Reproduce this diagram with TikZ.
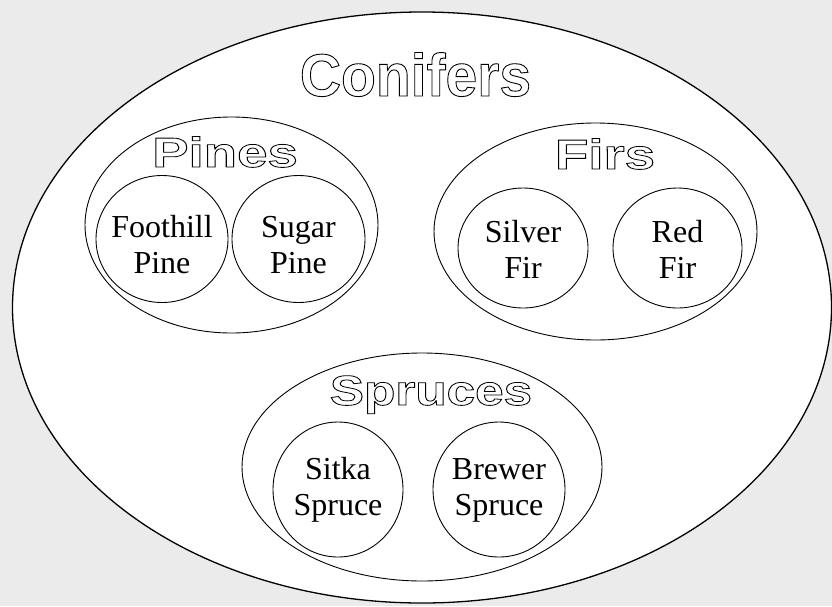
\documentclass[tikz,border=0pt]{standalone}
\usepackage{fontspec}
\setmainfont{Liberation Serif}
\newfontfamily\headfont{Liberation Sans}
\usetikzlibrary{shapes.geometric}

\definecolor{paper}{HTML}{EBEBEB}

% hollow lettering for the group titles: glyphs stroked, not filled
\newcommand{\hollow}[3]{\scalebox{#1}[1]{\special{pdf:literal direct 1 Tr #2 w}#3\special{pdf:literal direct 0 Tr}}}

\tikzset{
  ring/.style={ellipse, draw=black, fill=white, line width=0.9pt, inner sep=0pt, outer sep=0pt},
  species/.style={anchor=base, align=center, inner sep=0pt,
    font=\fontsize{32}{36}\selectfont},
  grouptitle/.style={anchor=base, inner sep=0pt, font=\headfont\bfseries\fontsize{42}{48}\selectfont},
}

\begin{document}
\begin{tikzpicture}[x=1pt, y=-1pt]
  \fill[paper] (0,0) rectangle (832,606);
  \useasboundingbox (0,0) rectangle (832,606);

  % outer set
  \node[ring, line width=1.3pt, minimum width=819pt, minimum height=591pt] (conifers) at (422,307.5) {};
  \node[anchor=base, inner sep=0pt, font=\headfont\bfseries\fontsize{60}{66}\selectfont] (conifers-t) at (415.5,96) {\hollow{0.95}{0.9}{Conifers}};

  % groups
  \node[ring, minimum width=293pt, minimum height=216pt] (pines) at (231.5,225) {};
  \node[ring, minimum width=323pt, minimum height=217pt] (firs) at (595.5,231.5) {};
  \node[ring, minimum width=360pt, minimum height=228pt] (spruces) at (422,467) {};

  \node[grouptitle] (pines-t) at (225,167) {\hollow{1.3}{0.8}{Pines}};
  \node[grouptitle] (firs-t) at (605,169) {\hollow{1.3}{0.8}{Firs}};
  \node[grouptitle] (spruces-t) at (431,405) {\hollow{1.22}{0.8}{Spruces}};

  % species
  \node[ring, minimum width=132pt, minimum height=127pt] (foothill) at (162,239) {};
  \node[ring, minimum width=133pt, minimum height=127pt] (sugar) at (298.5,239) {};
  \node[ring, minimum width=130pt, minimum height=120pt] (silver) at (523,248) {};
  \node[ring, minimum width=129pt, minimum height=120pt] (red) at (677.5,248) {};
  \node[ring, minimum width=130pt, minimum height=135pt] (sitka) at (338,489.5) {};
  \node[ring, minimum width=132pt, minimum height=135pt] (brewer) at (499,489.5) {};

  % the base anchor sits on the last line of each two-line label
  \node[species] (foothill-t) at ([yshift=-34pt]foothill.center) {Foothill\\Pine};
  \node[species] (sugar-t) at ([yshift=-34pt]sugar.center) {Sugar\\Pine};
  \node[species] (silver-t) at ([yshift=-30pt]silver.center) {Silver\\Fir};
  \node[species] (red-t) at ([yshift=-30pt]red.center) {Red\\Fir};
  \node[species] (sitka-t) at ([yshift=-25.5pt]sitka.center) {Sitka\\Spruce};
  \node[species] (brewer-t) at ([yshift=-25.5pt]brewer.center) {Brewer\\Spruce};
\end{tikzpicture}
\end{document}
